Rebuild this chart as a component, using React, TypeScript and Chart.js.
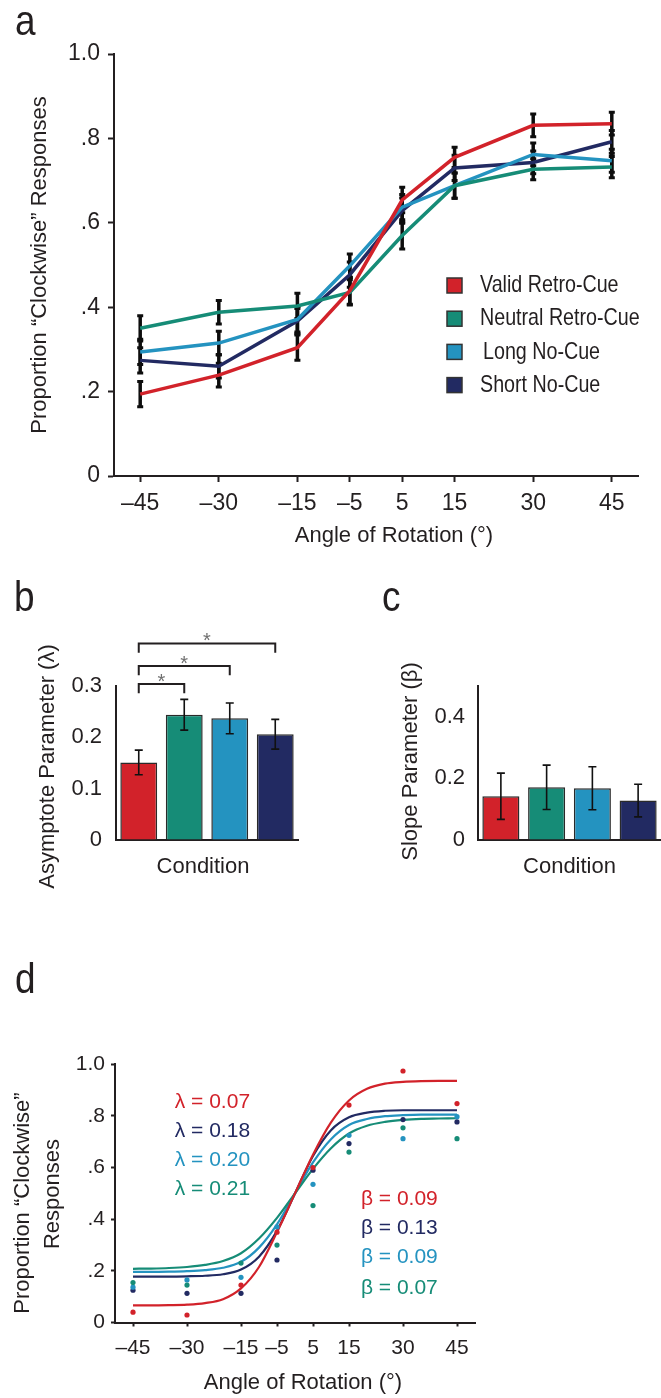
import React, { useEffect, useRef } from 'react';
import { Chart, registerables } from 'chart.js';
Chart.register(...registerables);

// ---------------- data ----------------
const ANGLES = [-45, -30, -15, -5, 5, 15, 30, 45];
const CONDITIONS = ['Valid Retro-Cue', 'Neutral Retro-Cue', 'Long No-Cue', 'Short No-Cue'];
const COLORS = ['#d2222a', '#168c77', '#2493c0', '#222a62'];

const Y_TICKS_A = [0, 0.2, 0.4, 0.6, 0.8, 1.0];
const Y_LABELS_A = ['0', '.2', '.4', '.6', '.8', '1.0'];

// panel a: proportion "clockwise" responses
const validA = [0.194, 0.239, 0.304, 0.439, 0.654, 0.755, 0.831, 0.835];
const neutralA = [0.350, 0.388, 0.403, 0.435, 0.570, 0.688, 0.727, 0.732];
const longA = [0.294, 0.315, 0.371, 0.498, 0.637, 0.688, 0.762, 0.747];
const shortA = [0.274, 0.260, 0.367, 0.477, 0.629, 0.730, 0.743, 0.792];
const validErrA = [0.030, 0.028, 0.030, 0.032, 0.030, 0.024, 0.027, 0.027];
const neutralErrA = [0.030, 0.028, 0.030, 0.030, 0.032, 0.030, 0.025, 0.025];
const longErrA = [0.030, 0.028, 0.030, 0.028, 0.030, 0.030, 0.027, 0.027];
const shortErrA = [0.030, 0.028, 0.030, 0.030, 0.030, 0.030, 0.027, 0.027];

// panel b: asymptote parameter
const asymptote = [0.151, 0.244, 0.237, 0.206];
const asymptoteErr = [0.024, 0.030, 0.030, 0.029];
const ASYM_TICKS = [0, 0.1, 0.2, 0.3];
const SIG_PAIRS = [[0, 1], [0, 2], [0, 3]];

// panel c: slope parameter
const slope = [0.142, 0.171, 0.168, 0.128];
const slopeErr = [0.075, 0.072, 0.070, 0.053];
const SLOPE_TICKS = [0, 0.2, 0.4];

// panel d: fitted curves and single-participant proportions
const CURVE_X = [-45, -40, -35, -30, -25, -20, -15, -10, -5, 0, 5, 10, 15, 20, 25, 30, 35, 40, 45];
const validFit = [0.066, 0.066, 0.067, 0.069, 0.075, 0.090, 0.132, 0.215, 0.350, 0.500, 0.650, 0.775, 0.860, 0.905, 0.925, 0.932, 0.935, 0.936, 0.936];
const neutralFit = [0.208, 0.209, 0.211, 0.215, 0.223, 0.238, 0.268, 0.325, 0.405, 0.500, 0.595, 0.675, 0.732, 0.762, 0.777, 0.785, 0.789, 0.790, 0.791];
const longFit = [0.196, 0.196, 0.197, 0.199, 0.203, 0.212, 0.235, 0.290, 0.380, 0.500, 0.620, 0.710, 0.765, 0.788, 0.799, 0.803, 0.805, 0.805, 0.805];
const shortFit = [0.178, 0.178, 0.178, 0.179, 0.181, 0.187, 0.205, 0.255, 0.355, 0.500, 0.645, 0.745, 0.795, 0.813, 0.820, 0.822, 0.822, 0.822, 0.822];
const validD = [0.040, 0.029, 0.145, 0.350, 0.600, 0.842, 0.974, 0.848];
const neutralD = [0.155, 0.145, 0.230, 0.300, 0.453, 0.660, 0.754, 0.712];
const longD = [0.137, 0.165, 0.175, 0.370, 0.535, 0.725, 0.712, 0.797];
const shortD = [0.125, 0.113, 0.113, 0.242, 0.590, 0.693, 0.786, 0.777];
const LAMBDA_LABELS = ['λ = 0.07', 'λ = 0.18', 'λ = 0.20', 'λ = 0.21'];
const BETA_LABELS = ['β = 0.09', 'β = 0.13', 'β = 0.09', 'β = 0.07'];
const LABEL_ORDER = [0, 3, 2, 1]; // condition index of each parameter row

// ---------------- style ----------------
const INK = '#231f20';
const FAM = "'Liberation Sans', Arial, sans-serif";

type TextItem = { text: string; x: number; y: number; font: string; color?: string; align?: CanvasTextAlign; rotate?: boolean; sx?: number };

function drawTexts(ctx: CanvasRenderingContext2D, items: TextItem[]) {
  items.forEach((t) => {
    ctx.save();
    ctx.font = t.font;
    ctx.fillStyle = t.color || INK;
    ctx.textAlign = t.align || 'center';
    ctx.textBaseline = 'middle';
    ctx.translate(t.x, t.y);
    if (t.rotate) ctx.rotate(-Math.PI / 2);
    if (t.sx) ctx.scale(t.sx, 1);
    ctx.fillText(t.text, 0, 0);
    ctx.restore();
  });
}

const fmtAngle = (v: number) => (v < 0 ? '\u2013' + Math.abs(v) : String(v));

function axisGrid(tickLength: number) {
  return {
    display: true,
    drawOnChartArea: false,
    drawTicks: tickLength > 0,
    tickLength,
    tickWidth: 2,
    tickColor: INK,
  };
}
const border = { display: true, color: INK, width: 2 };

const common = {
  responsive: false,
  maintainAspectRatio: false,
  animation: false as const,
  events: [] as any[],
};

// ---------------- configs ----------------
function configA(): any {
  const series = [validA, neutralA, longA, shortA];
  const errs = [validErrA, neutralErrA, longErrA, shortErrA];
  return {
    type: 'line',
    data: {
      datasets: series.map((vals, i) => ({
        label: CONDITIONS[i],
        data: ANGLES.map((a, j) => ({ x: a, y: vals[j] })),
        errors: errs[i],
        borderColor: COLORS[i],
        backgroundColor: COLORS[i],
        borderWidth: 3.5,
        pointRadius: 0,
        tension: 0,
      })),
    },
    options: {
      ...common,
      layout: { padding: { top: 54, right: 23, left: 0, bottom: 0 } },
      plugins: { legend: { display: false }, tooltip: { enabled: false } },
      scales: {
        x: {
          type: 'linear', min: -50, max: 50,
          afterBuildTicks: (s: any) => { s.ticks = ANGLES.map((v) => ({ value: v })); },
          afterFit: (s: any) => { s.height = 84; },
          ticks: { callback: fmtAngle, font: { family: FAM, size: 23 }, color: INK, padding: 8, autoSkip: false, maxRotation: 0 },
          grid: axisGrid(6), border,
        },
        y: {
          type: 'linear', min: 0, max: 1,
          afterBuildTicks: (s: any) => { s.ticks = Y_TICKS_A.map((v) => ({ value: v })); },
          afterFit: (s: any) => { s.width = 114; },
          ticks: { callback: (v: number) => Y_LABELS_A[Y_TICKS_A.indexOf(v)], font: { family: FAM, size: 23 }, color: INK, padding: 8 },
          grid: axisGrid(6), border,
        },
      },
    },
    plugins: [{
      id: 'decorA',
      beforeDatasetsDraw(chart: any) {
        const { ctx, scales: { x, y } } = chart;
        ctx.save();
        ctx.strokeStyle = '#0d0d0d';
        chart.data.datasets.forEach((ds: any) => {
          ds.data.forEach((p: any, j: number) => {
            const px = x.getPixelForValue(p.x);
            const y1 = y.getPixelForValue(p.y - ds.errors[j]);
            const y2 = y.getPixelForValue(p.y + ds.errors[j]);
            ctx.lineWidth = 3.5;
            ctx.beginPath(); ctx.moveTo(px, y1); ctx.lineTo(px, y2); ctx.stroke();
            ctx.lineWidth = 3;
            ctx.beginPath();
            ctx.moveTo(px - 3, y1); ctx.lineTo(px + 3, y1);
            ctx.moveTo(px - 3, y2); ctx.lineTo(px + 3, y2);
            ctx.stroke();
          });
        });
        ctx.restore();
      },
      afterDraw(chart: any) {
        const { ctx } = chart;
        // legend
        chart.data.datasets.forEach((ds: any, i: number) => {
          const cy = 285.5 + i * 33.2;
          ctx.save();
          ctx.fillStyle = ds.borderColor;
          ctx.strokeStyle = '#333';
          ctx.lineWidth = 1.5;
          ctx.fillRect(447, cy - 7.5, 15, 15);
          ctx.strokeRect(447, cy - 7.5, 15, 15);
          ctx.restore();
          drawTexts(ctx, [{ text: ds.label, x: i === 2 ? 483 : 480, y: cy, font: `24px ${FAM}`, align: 'left', sx: 0.82 }]);
        });
        drawTexts(ctx, [
          { text: 'Angle of Rotation (°)', x: 394, y: 536, font: `22px ${FAM}` },
          { text: 'Proportion \u201CClockwise\u201D Responses', x: 40, y: 265, font: `22px ${FAM}`, rotate: true },
        ]);
      },
    }],
  };
}

function barConfig(vals: number[], errs: number[], ticks: number[], max: number, opts: any): any {
  return {
    type: 'bar',
    data: {
      labels: CONDITIONS,
      datasets: [{
        data: vals,
        errors: errs,
        backgroundColor: COLORS,
        borderColor: '#2a2a2a',
        borderWidth: 1.5,
        barPercentage: 0.81,
        categoryPercentage: 1,
      }],
    },
    options: {
      ...common,
      layout: { padding: { top: 116, right: opts.right, left: 0, bottom: 0 } },
      plugins: { legend: { display: false }, tooltip: { enabled: false } },
      scales: {
        x: {
          type: 'category',
          afterFit: (s: any) => { s.height = 60; },
          ticks: { display: false },
          grid: axisGrid(0), border,
        },
        y: {
          type: 'linear', min: 0, max,
          afterBuildTicks: (s: any) => { s.ticks = ticks.map((v) => ({ value: v })); },
          afterFit: (s: any) => { s.width = opts.yWidth; },
          ticks: { callback: (v: number) => (v === 0 ? '0' : v.toFixed(1)), font: { family: FAM, size: 22 }, color: INK, padding: opts.pad },
          grid: axisGrid(0), border,
        },
      },
    },
    plugins: [{
      id: 'decorBar',
      afterDatasetsDraw(chart: any) {
        const { ctx, scales: { y } } = chart;
        const meta = chart.getDatasetMeta(0);
        const ds = chart.data.datasets[0];
        ctx.save();
        ctx.strokeStyle = '#111';
        ctx.lineWidth = 1.6;
        meta.data.forEach((bar: any, i: number) => {
          const y1 = y.getPixelForValue(ds.data[i] - ds.errors[i]);
          const y2 = y.getPixelForValue(ds.data[i] + ds.errors[i]);
          ctx.beginPath();
          ctx.moveTo(bar.x, y1); ctx.lineTo(bar.x, y2);
          ctx.moveTo(bar.x - 4, y1); ctx.lineTo(bar.x + 4, y1);
          ctx.moveTo(bar.x - 4, y2); ctx.lineTo(bar.x + 4, y2);
          ctx.stroke();
        });
        ctx.restore();
      },
      afterDraw(chart: any) {
        const { ctx, chartArea, scales: { y } } = chart;
        const meta = chart.getDatasetMeta(0);
        if (opts.brackets) {
          ctx.save();
          ctx.strokeStyle = INK;
          ctx.lineWidth = 2;
          SIG_PAIRS.forEach(([a, b], k) => {
            const lv = opts.brackets[k];
            const ly = y.getPixelForValue(lv);
            const ley = y.getPixelForValue(lv - 0.018);
            const xa = meta.data[a].x, xb = meta.data[b].x;
            ctx.beginPath();
            ctx.moveTo(xa, ley); ctx.lineTo(xa, ly); ctx.lineTo(xb, ly); ctx.lineTo(xb, ley);
            ctx.stroke();
            drawTexts(ctx, [{ text: '*', x: (xa + xb) / 2, y: ly - 1.5, font: `20px ${FAM}`, color: '#6f6f6f' }]);
          });
          ctx.restore();
        }
        const cx = (chartArea.left + chartArea.right) / 2 + opts.condDx;
        drawTexts(ctx, [
          { text: 'Condition', x: cx, y: 296.7, font: `22px ${FAM}` },
          { text: opts.title, x: opts.titleX, y: opts.titleY, font: `22px ${FAM}`, rotate: true },
        ]);
      },
    }],
  };
}

function configD(): any {
  const fits = [validFit, neutralFit, longFit, shortFit];
  const dots = [validD, neutralD, longD, shortD];
  const lineSets = fits.map((f, i) => ({
    label: CONDITIONS[i] + ' fit',
    data: CURVE_X.map((x, j) => ({ x, y: f[j] })),
    showLine: true,
    borderColor: COLORS[i],
    borderWidth: 2.2,
    pointRadius: 0,
    cubicInterpolationMode: 'monotone',
    order: 2,
  }));
  const dotSets = dots.map((d, i) => ({
    label: CONDITIONS[i],
    data: ANGLES.map((x, j) => ({ x, y: d[j] })),
    showLine: false,
    pointRadius: 2.6,
    pointBorderWidth: 0,
    pointBackgroundColor: COLORS[i],
    backgroundColor: COLORS[i],
    order: 1,
  }));
  return {
    type: 'scatter',
    data: { datasets: [...lineSets, ...dotSets] },
    options: {
      ...common,
      layout: { padding: { top: 124.3, right: 186, left: 0, bottom: 0 } },
      plugins: { legend: { display: false }, tooltip: { enabled: false } },
      scales: {
        x: {
          type: 'linear', min: -50, max: 50,
          afterBuildTicks: (s: any) => { s.ticks = ANGLES.map((v) => ({ value: v })); },
          afterFit: (s: any) => { s.height = 75.5; },
          ticks: { callback: fmtAngle, font: { family: FAM, size: 21 }, color: INK, padding: 9, autoSkip: false, maxRotation: 0 },
          grid: axisGrid(4), border,
        },
        y: {
          type: 'linear', min: 0, max: 1,
          afterBuildTicks: (s: any) => { s.ticks = Y_TICKS_A.map((v) => ({ value: v })); },
          afterFit: (s: any) => { s.width = 115; },
          ticks: { callback: (v: number) => Y_LABELS_A[Y_TICKS_A.indexOf(v)], font: { family: FAM, size: 21 }, color: INK, padding: 6 },
          grid: axisGrid(4), border,
        },
      },
    },
    plugins: [{
      id: 'decorD',
      afterDraw(chart: any) {
        const { ctx, scales: { x, y } } = chart;
        const lamY = [0.852, 0.740, 0.629, 0.517];
        const betY = [0.478, 0.365, 0.251, 0.134];
        const items: TextItem[] = [];
        LABEL_ORDER.forEach((ci, k) => {
          items.push({ text: LAMBDA_LABELS[k], x: x.getPixelForValue(-33.4), y: y.getPixelForValue(lamY[k]), font: `21px ${FAM}`, color: COLORS[ci], align: 'left' });
          items.push({ text: BETA_LABELS[k], x: x.getPixelForValue(18.3), y: y.getPixelForValue(betY[k]), font: `21px ${FAM}`, color: COLORS[ci], align: 'left' });
        });
        items.push({ text: 'Angle of Rotation (°)', x: 303, y: 443, font: `22px ${FAM}` });
        items.push({ text: 'Proportion \u201CClockwise\u201D', x: 23, y: 263, font: `22px ${FAM}`, rotate: true });
        items.push({ text: 'Responses', x: 53, y: 254, font: `22px ${FAM}`, rotate: true });
        drawTexts(ctx, items);
      },
    }],
  };
}

// ---------------- components ----------------
function Panel({ left, top, width, height, make }: { left: number; top: number; width: number; height: number; make: () => any }) {
  const ref = useRef<HTMLCanvasElement | null>(null);
  useEffect(() => {
    if (!ref.current) return;
    const chart = new Chart(ref.current, make());
    return () => chart.destroy();
  }, []);
  return (
    <canvas
      ref={ref}
      width={width}
      height={height}
      style={{ position: 'absolute', left, top, width, height }}
    />
  );
}

const letterStyle = (left: number, top: number): React.CSSProperties => ({
  position: 'absolute', left, top, fontFamily: FAM, fontSize: 42, lineHeight: '40px', color: INK,
  transform: 'scaleX(0.88)', transformOrigin: 'left top',
});

export default function App() {
  return (
    <div style={{ position: 'absolute', left: 0, top: 0, width: 661, height: 1398, background: '#fff', overflow: 'hidden' }}>
      <Panel left={0} top={0} width={661} height={560} make={configA} />
      <Panel left={0} top={570} width={330} height={330}
        make={() => barConfig(asymptote, asymptoteErr, ASYM_TICKS, 0.3, { right: 32, yWidth: 116, pad: 14, brackets: [0.304, 0.339, 0.383], condDx: -4, title: 'Asymptote Parameter (\u03BB)', titleX: 48, titleY: 196.5 })} />
      <Panel left={330} top={570} width={331} height={330}
        make={() => barConfig(slope, slopeErr, SLOPE_TICKS, 0.5, { right: 0, yWidth: 148, pad: 13, brackets: null, condDx: 0, title: 'Slope Parameter (\u03B2)', titleX: 81, titleY: 191.5 })} />
      <Panel left={0} top={940} width={661} height={458} make={configD} />
      <div style={letterStyle(15, 1)}>a</div>
      <div style={letterStyle(14, 577)}>b</div>
      <div style={letterStyle(381.5, 577)}>c</div>
      <div style={letterStyle(15, 959)}>d</div>
    </div>
  );
}
